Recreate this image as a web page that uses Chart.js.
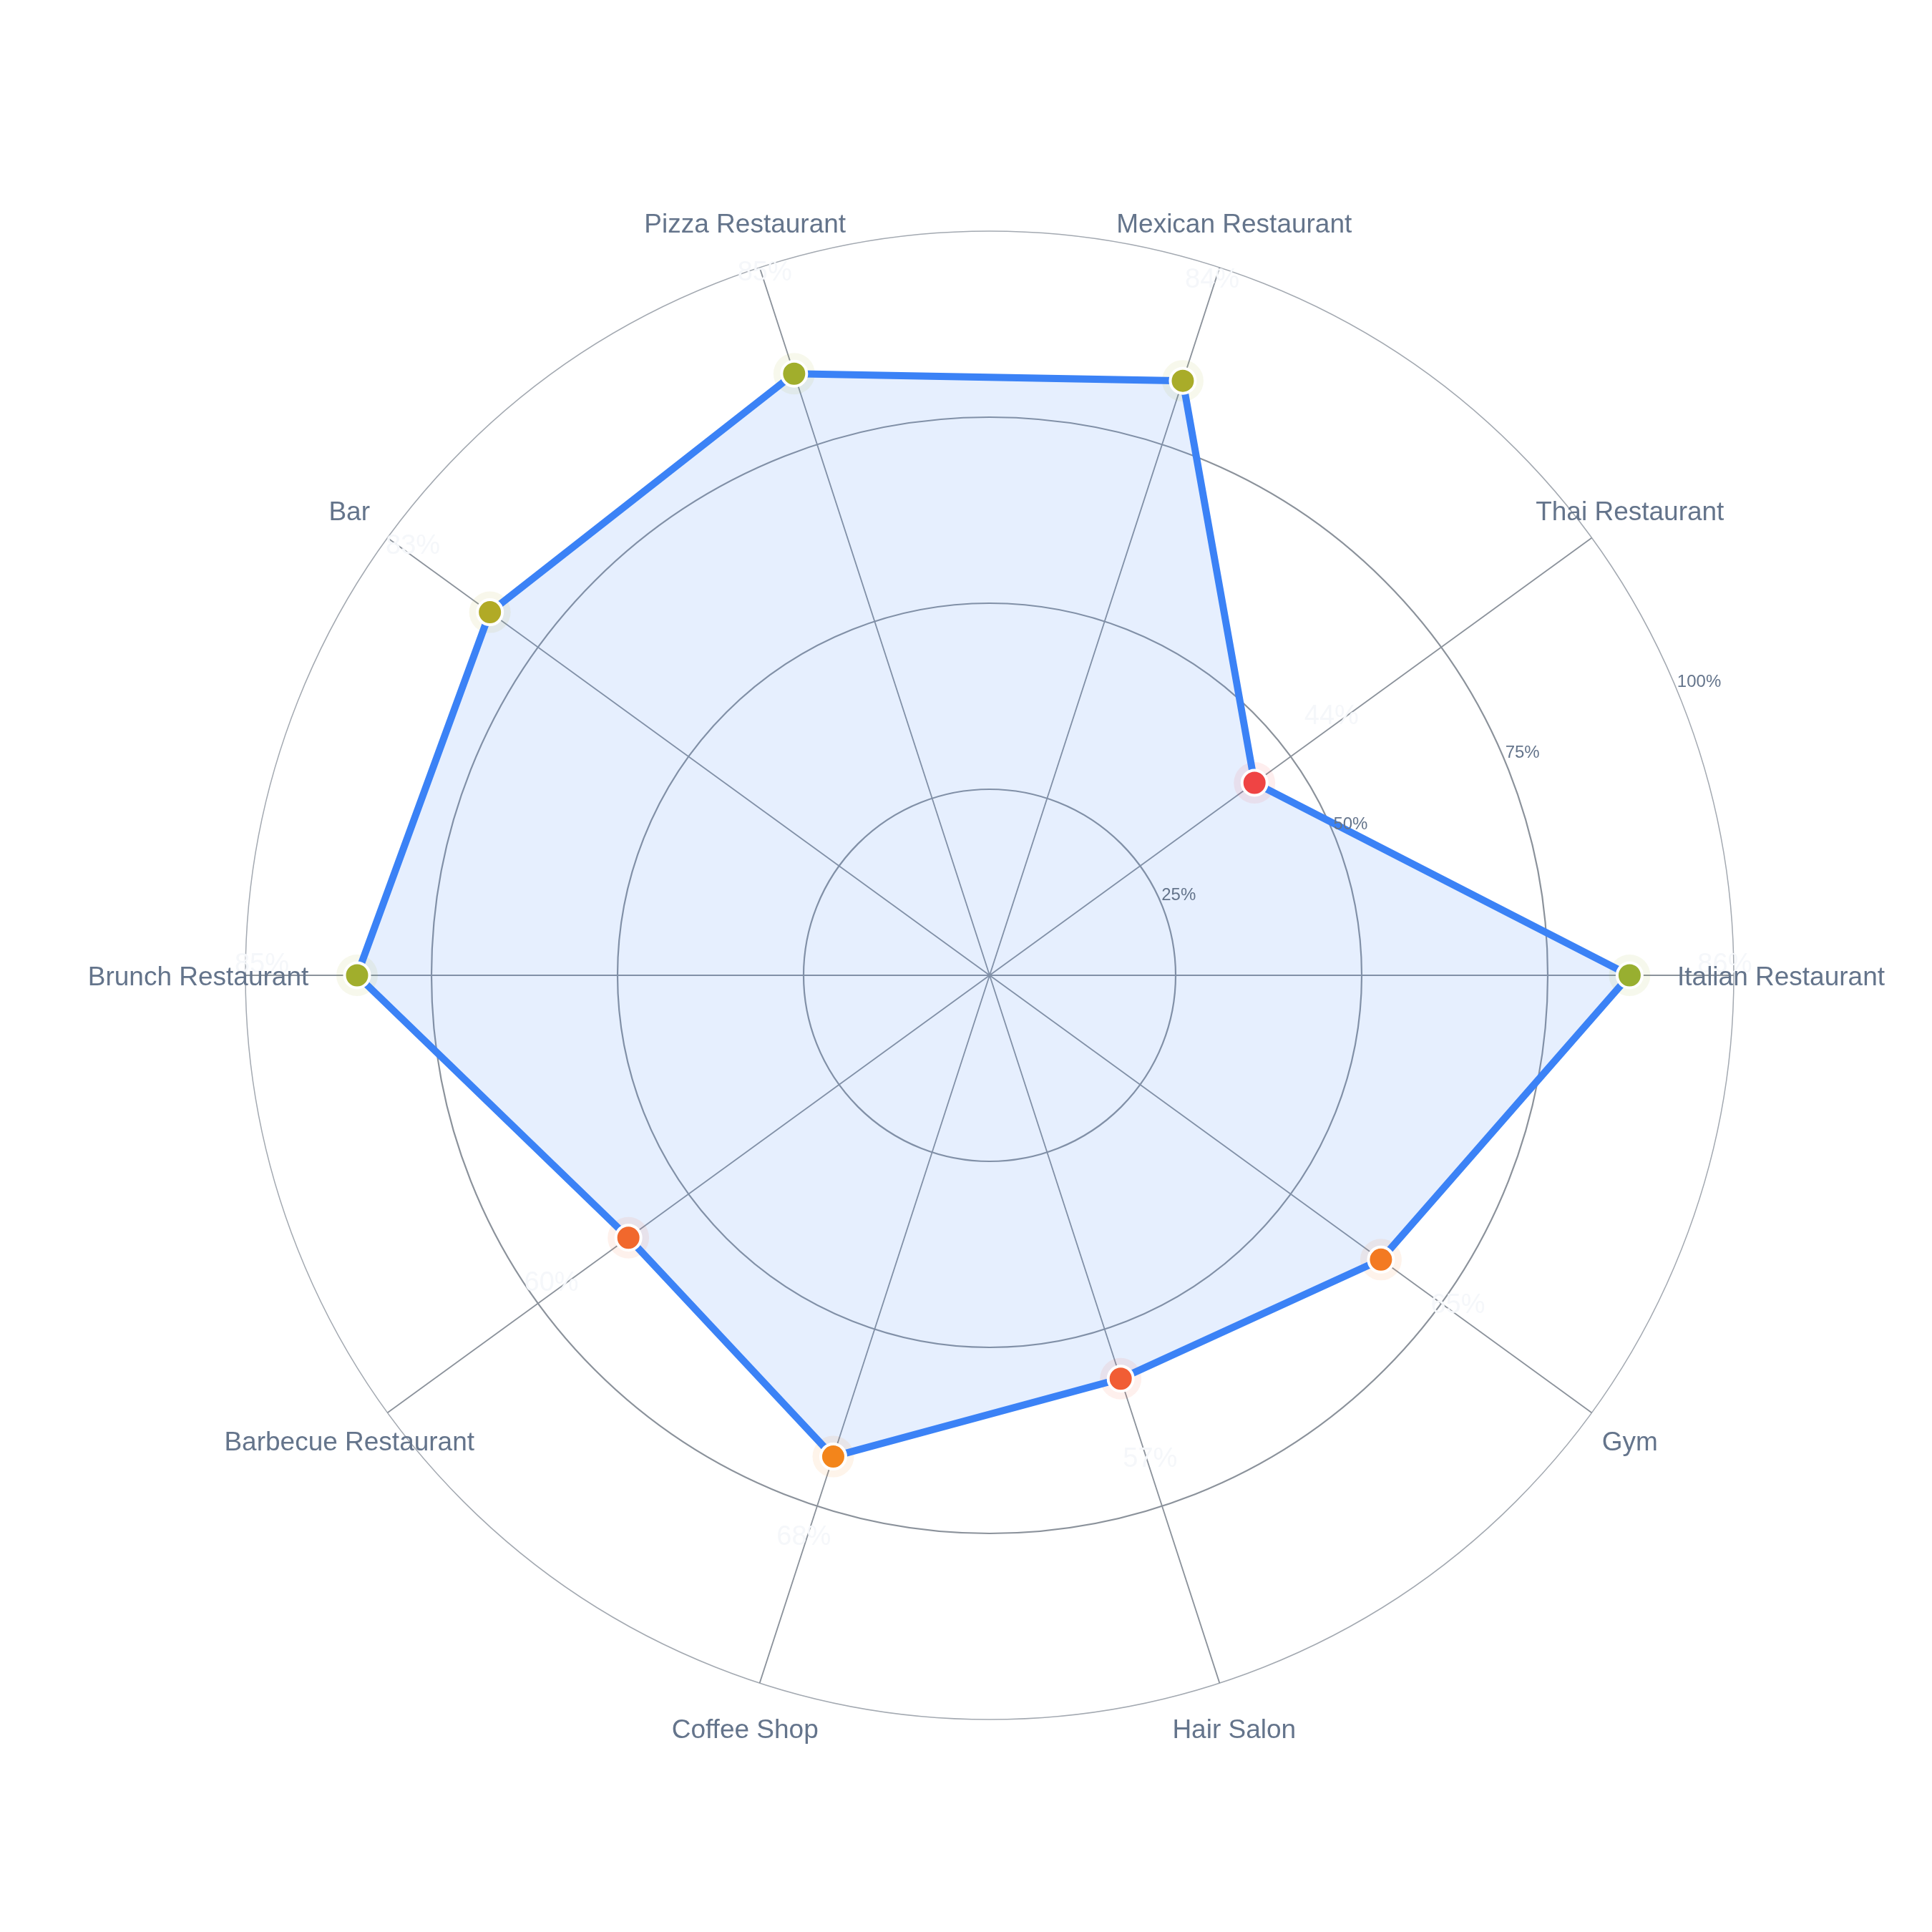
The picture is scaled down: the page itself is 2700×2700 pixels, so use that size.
<!DOCTYPE html>
<html>
<head>
<meta charset="utf-8">
<script src="https://cdn.jsdelivr.net/npm/chart.js@4.4.1/dist/chart.umd.min.js"></script>
<style>
  html, body { margin: 0; padding: 0; background: #ffffff; }
  #wrap { width: 2700px; height: 2700px; }
</style>
</head>
<body>
<div id="wrap"><canvas id="c" width="2700" height="2700"></canvas></div>
<script>
// Categories in clockwise order starting at the right (east)
const categories = [
  'Italian Restaurant', 'Gym', 'Hair Salon', 'Coffee Shop', 'Barbecue Restaurant',
  'Brunch Restaurant', 'Bar', 'Pizza Restaurant', 'Mexican Restaurant', 'Thai Restaurant'
];
const scores = [86, 65, 57, 68, 60, 85, 83, 85, 84, 44];
const tickValues = [25, 50, 75, 100];
const tickLabels = ['25%', '50%', '75%', '100%'];

const RED = [239, 68, 68], AMBER = [245, 158, 11], GREEN = [34, 197, 94];
function lerp(a, b, t) { return a.map((x, i) => Math.round(x + (b[i] - x) * t)); }
function scoreRGB(v) {
  if (v <= 50) return RED;
  if (v <= 75) return lerp(RED, AMBER, (v - 50) / 25);
  return lerp(AMBER, GREEN, Math.min(1, (v - 75) / 25));
}
function rgba(c, a) { return 'rgba(' + c[0] + ',' + c[1] + ',' + c[2] + ',' + a + ')'; }

const FONT = '"Liberation Sans", Arial, Helvetica, sans-serif';

const overlayPlugin = {
  id: 'overlay',
  afterDatasetsDraw(chart) {
    const s = chart.scales.r;
    const ctx = chart.ctx;
    ctx.save();
    // value labels (very faint)
    ctx.font = '38px ' + FONT;
    ctx.textAlign = 'center';
    ctx.textBaseline = 'middle';
    ctx.fillStyle = '#f5f7fa';
    scores.forEach((v, i) => {
      const p = s.getPointPosition(i, s.getDistanceFromCenterForValue(v) + 133);
      ctx.fillText(v + '%', p.x, p.y - 14);
    });
    // radial tick labels along 22.5deg
    const ang = 22.5 * Math.PI / 180;
    ctx.font = '24px ' + FONT;
    ctx.textAlign = 'left';
    ctx.fillStyle = '#64748b';
    tickValues.forEach((v, k) => {
      const d = s.getDistanceFromCenterForValue(v);
      ctx.fillText(tickLabels[k], s.xCenter + Math.cos(ang) * d, s.yCenter - Math.sin(ang) * d - 12);
    });
    // category labels centered at a fixed radius
    ctx.font = '37px ' + FONT;
    ctx.textAlign = 'center';
    ctx.fillStyle = '#64748b';
    categories.forEach((lab, i) => {
      const p = s.getPointPosition(i, s.drawingArea + 66);
      ctx.fillText(lab, p.x, p.y + 4);
    });
    ctx.restore();
  }
};

new Chart(document.getElementById('c'), {
  type: 'radar',
  data: {
    labels: categories,
    datasets: [
      {
        label: 'Score',
        data: scores,
        borderColor: '#3b82f6',
        borderWidth: 10,
        backgroundColor: 'rgba(59,130,246,0.13)',
        fill: true,
        pointRadius: 17.5,
        pointBorderWidth: 4,
        pointBorderColor: '#ffffff',
        pointBackgroundColor: (ctx) => rgba(scoreRGB(scores[ctx.dataIndex]), 1),
        pointHoverRadius: 17.5
      },
      {
        label: 'halo',
        data: scores,
        showLine: false,
        fill: false,
        borderWidth: 0,
        pointRadius: 29,
        pointBorderWidth: 0,
        pointBackgroundColor: (ctx) => rgba(scoreRGB(scores[ctx.dataIndex]), 0.09),
        pointHoverRadius: 29
      }
    ]
  },
  options: {
    responsive: false,
    devicePixelRatio: 1,
    animation: false,
    layout: { padding: { left: 343, right: 277, top: 323, bottom: 297 } },
    plugins: {
      legend: { display: false },
      tooltip: { enabled: false },
      filler: { drawTime: 'beforeDatasetsDraw' }
    },
    scales: {
      r: {
        min: 0,
        max: 100,
        startAngle: 90,
        ticks: { stepSize: 25, display: false },
        pointLabels: { display: false },
        grid: {
          circular: true,
          color: (ctx) => (ctx.tick && ctx.tick.value === 100) ? '#a3a9b1' : '#8b929b',
          lineWidth: (ctx) => (ctx.tick && ctx.tick.value === 100) ? 1.5 : 2.2
        },
        angleLines: { color: '#8b929b', lineWidth: 1.8 }
      }
    }
  },
  plugins: [overlayPlugin]
});
</script>
</body>
</html>
